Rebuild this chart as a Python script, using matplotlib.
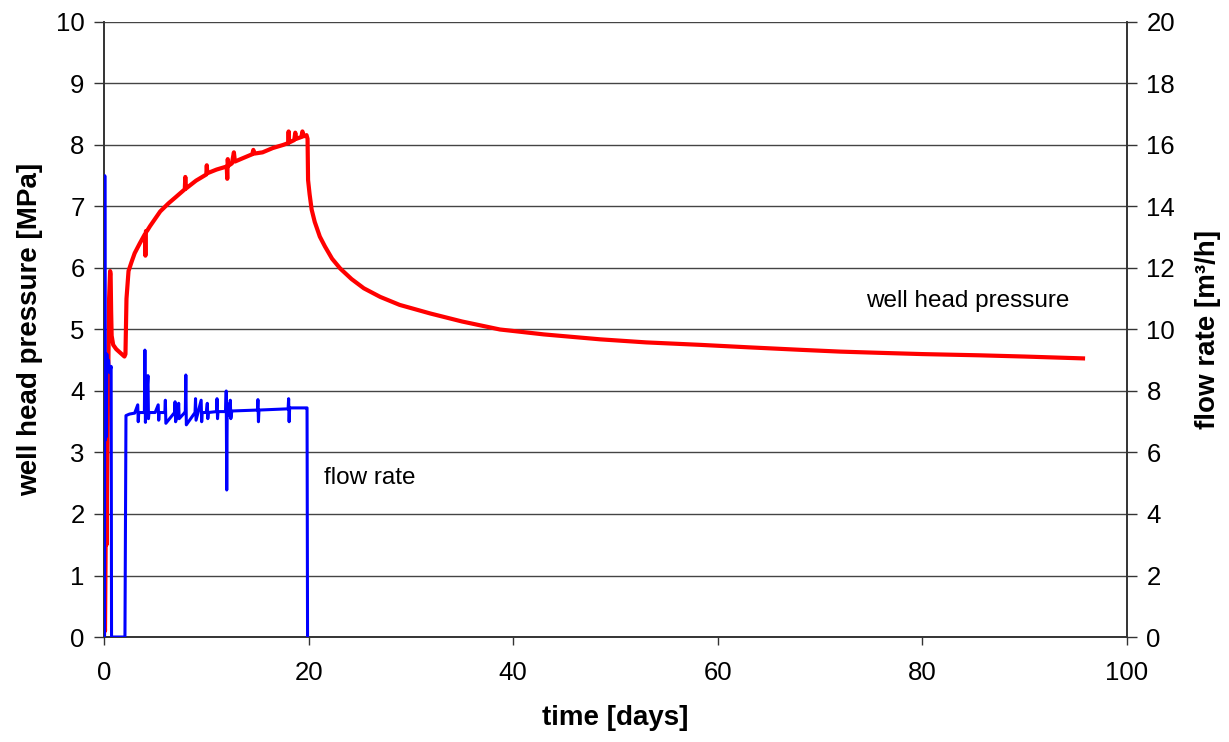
import matplotlib.pyplot as plt

plt.rcParams['font.family'] = ['Liberation Sans', 'DejaVu Sans']

# well head pressure [MPa]
p_days = [0.0, 0.05, 0.1, 0.15, 0.2, 0.25, 0.3, 0.4, 0.5, 0.6, 0.65, 0.7, 0.75, 0.9,
          1.2, 1.6, 2.0, 2.1, 2.2, 2.4, 2.7, 3.0, 3.5, 4.0, 4.05, 4.1, 4.2, 4.5,
          5.0, 5.5, 6.3, 7.0, 7.9, 7.95, 8.0, 9.0, 10.0, 10.05, 10.1, 11.0, 12.0,
          12.05, 12.1, 12.15, 12.5, 12.7, 12.8, 13.5, 14.5, 14.6, 14.7, 15.5, 16.5,
          17.5, 18.0, 18.05, 18.1, 18.6, 18.7, 18.8, 19.3, 19.4, 19.5, 19.8, 19.9,
          19.95, 20.1, 20.3, 20.6, 21.1, 21.6, 22.3, 23.1, 24.2, 25.4, 27.0, 28.9,
          31.9, 35.0, 38.7, 43.0, 48.5, 53.0, 58.3, 63.0, 68.0, 72.0, 75.9, 80.0,
          85.6, 90.0, 95.7]
pressure = [0.0, 0.4, 0.1, 1.2, 2.5, 1.5, 2.5, 4.0, 5.5, 5.95, 5.9, 5.3, 4.9, 4.75,
            4.68, 4.62, 4.56, 4.6, 5.5, 5.95, 6.1, 6.24, 6.4, 6.55, 6.2, 6.6, 6.6, 6.68,
            6.8, 6.92, 7.05, 7.15, 7.28, 7.48, 7.29, 7.42, 7.52, 7.67, 7.54, 7.6, 7.65,
            7.45, 7.77, 7.66, 7.7, 7.88, 7.73, 7.78, 7.85, 7.92, 7.86, 7.88, 7.95,
            8.0, 8.03, 8.22, 8.04, 8.08, 8.2, 8.1, 8.13, 8.22, 8.14, 8.16, 8.1,
            7.43, 7.2, 6.95, 6.75, 6.51, 6.35, 6.15, 5.99, 5.82, 5.67, 5.53, 5.40,
            5.26, 5.13, 5.00, 4.92, 4.84, 4.79, 4.75, 4.71, 4.67, 4.64, 4.62, 4.60,
            4.58, 4.56, 4.53]

# flow rate [m3/h]
q_days = [0.0, 0.05, 0.08, 0.12, 0.18, 0.22, 0.28, 0.35, 0.45, 0.55, 0.7, 0.74,
          2.05, 2.15, 2.5, 3.0, 3.3, 3.35, 3.4, 3.95, 4.0, 4.05, 4.1, 4.3, 4.35, 4.4,
          5.0, 5.3, 5.35, 5.4, 5.95, 6.0, 6.05, 6.9, 6.95, 7.0, 7.25, 7.3, 7.35,
          7.9, 7.95, 8.0, 8.05, 8.9, 8.95, 9.0, 9.5, 9.55, 9.6, 10.0, 10.1, 10.15,
          10.2, 11.0, 11.05, 11.1, 11.15, 11.9, 11.95, 12.0, 12.05, 12.3, 12.35,
          12.4, 12.5, 15.0, 15.05, 15.1, 15.15, 18.0, 18.05, 18.1, 18.15, 19.8,
          19.85, 19.9]
flow = [0.0, 0.0, 15.0, 6.4, 9.1, 6.5, 9.2, 8.8, 9.0, 8.6, 8.8, 0.0,
        0.0, 7.2, 7.25, 7.28, 7.55, 7.0, 7.3, 7.3, 9.33, 6.98, 7.3, 8.5, 7.1, 7.3,
        7.3, 7.55, 7.05, 7.3, 7.3, 7.7, 6.95, 7.3, 7.65, 7.0, 7.3, 7.6, 7.1,
        7.3, 7.3, 8.52, 6.9, 7.3, 7.75, 7.05, 7.7, 7.0, 7.3, 7.3, 7.6, 7.1,
        7.3, 7.33, 7.75, 7.1, 7.33, 7.33, 8.0, 4.78, 7.6, 7.2, 7.7,
        7.1, 7.35, 7.38, 7.72, 7.0, 7.38, 7.42, 7.75, 7.0, 7.45, 7.45,
        7.45, 0.0]

fig = plt.figure(figsize=(12.29, 7.42), dpi=100)
ax = fig.add_axes([0.0846, 0.1415, 0.8324, 0.8289])
ax2 = ax.twinx()

ax.plot(p_days, pressure, color='#ff0000', lw=3.0, zorder=3)
ax2.plot(q_days, flow, color='#0000ff', lw=2.2, zorder=3)

ax.set_xlim(0, 100)
ax.set_ylim(0, 10)
ax2.set_ylim(0, 20)
ax.set_xticks(range(0, 101, 20))
ax.set_yticks(range(0, 11))
ax2.set_yticks(range(0, 21, 2))

ax.yaxis.grid(True, color='#444444', lw=1.0)
ax.set_axisbelow(True)
for a in (ax, ax2):
    a.spines['top'].set_visible(False)
    for s in ('left', 'right', 'bottom'):
        a.spines[s].set_color('#333333')
        a.spines[s].set_linewidth(1.2)
    a.tick_params(direction='out', length=7, width=1, colors='#333333',
                  labelsize=18.5, labelcolor='black', pad=7)
ax.tick_params(axis='x', length=5.5, pad=12)

ax.set_xlabel('time [days]', fontsize=20, fontweight='bold', labelpad=14)
ax.set_ylabel('well head pressure [MPa]', fontsize=20, fontweight='bold', labelpad=9)
ax2.set_ylabel('flow rate [m³/h]', fontsize=20, fontweight='bold', labelpad=14)

ax.text(74.5, 5.46, 'well head pressure', fontsize=17.5, va='center')
ax.text(21.5, 2.59, 'flow rate', fontsize=17.5, va='center')

fig.savefig('out.png', dpi=100)
